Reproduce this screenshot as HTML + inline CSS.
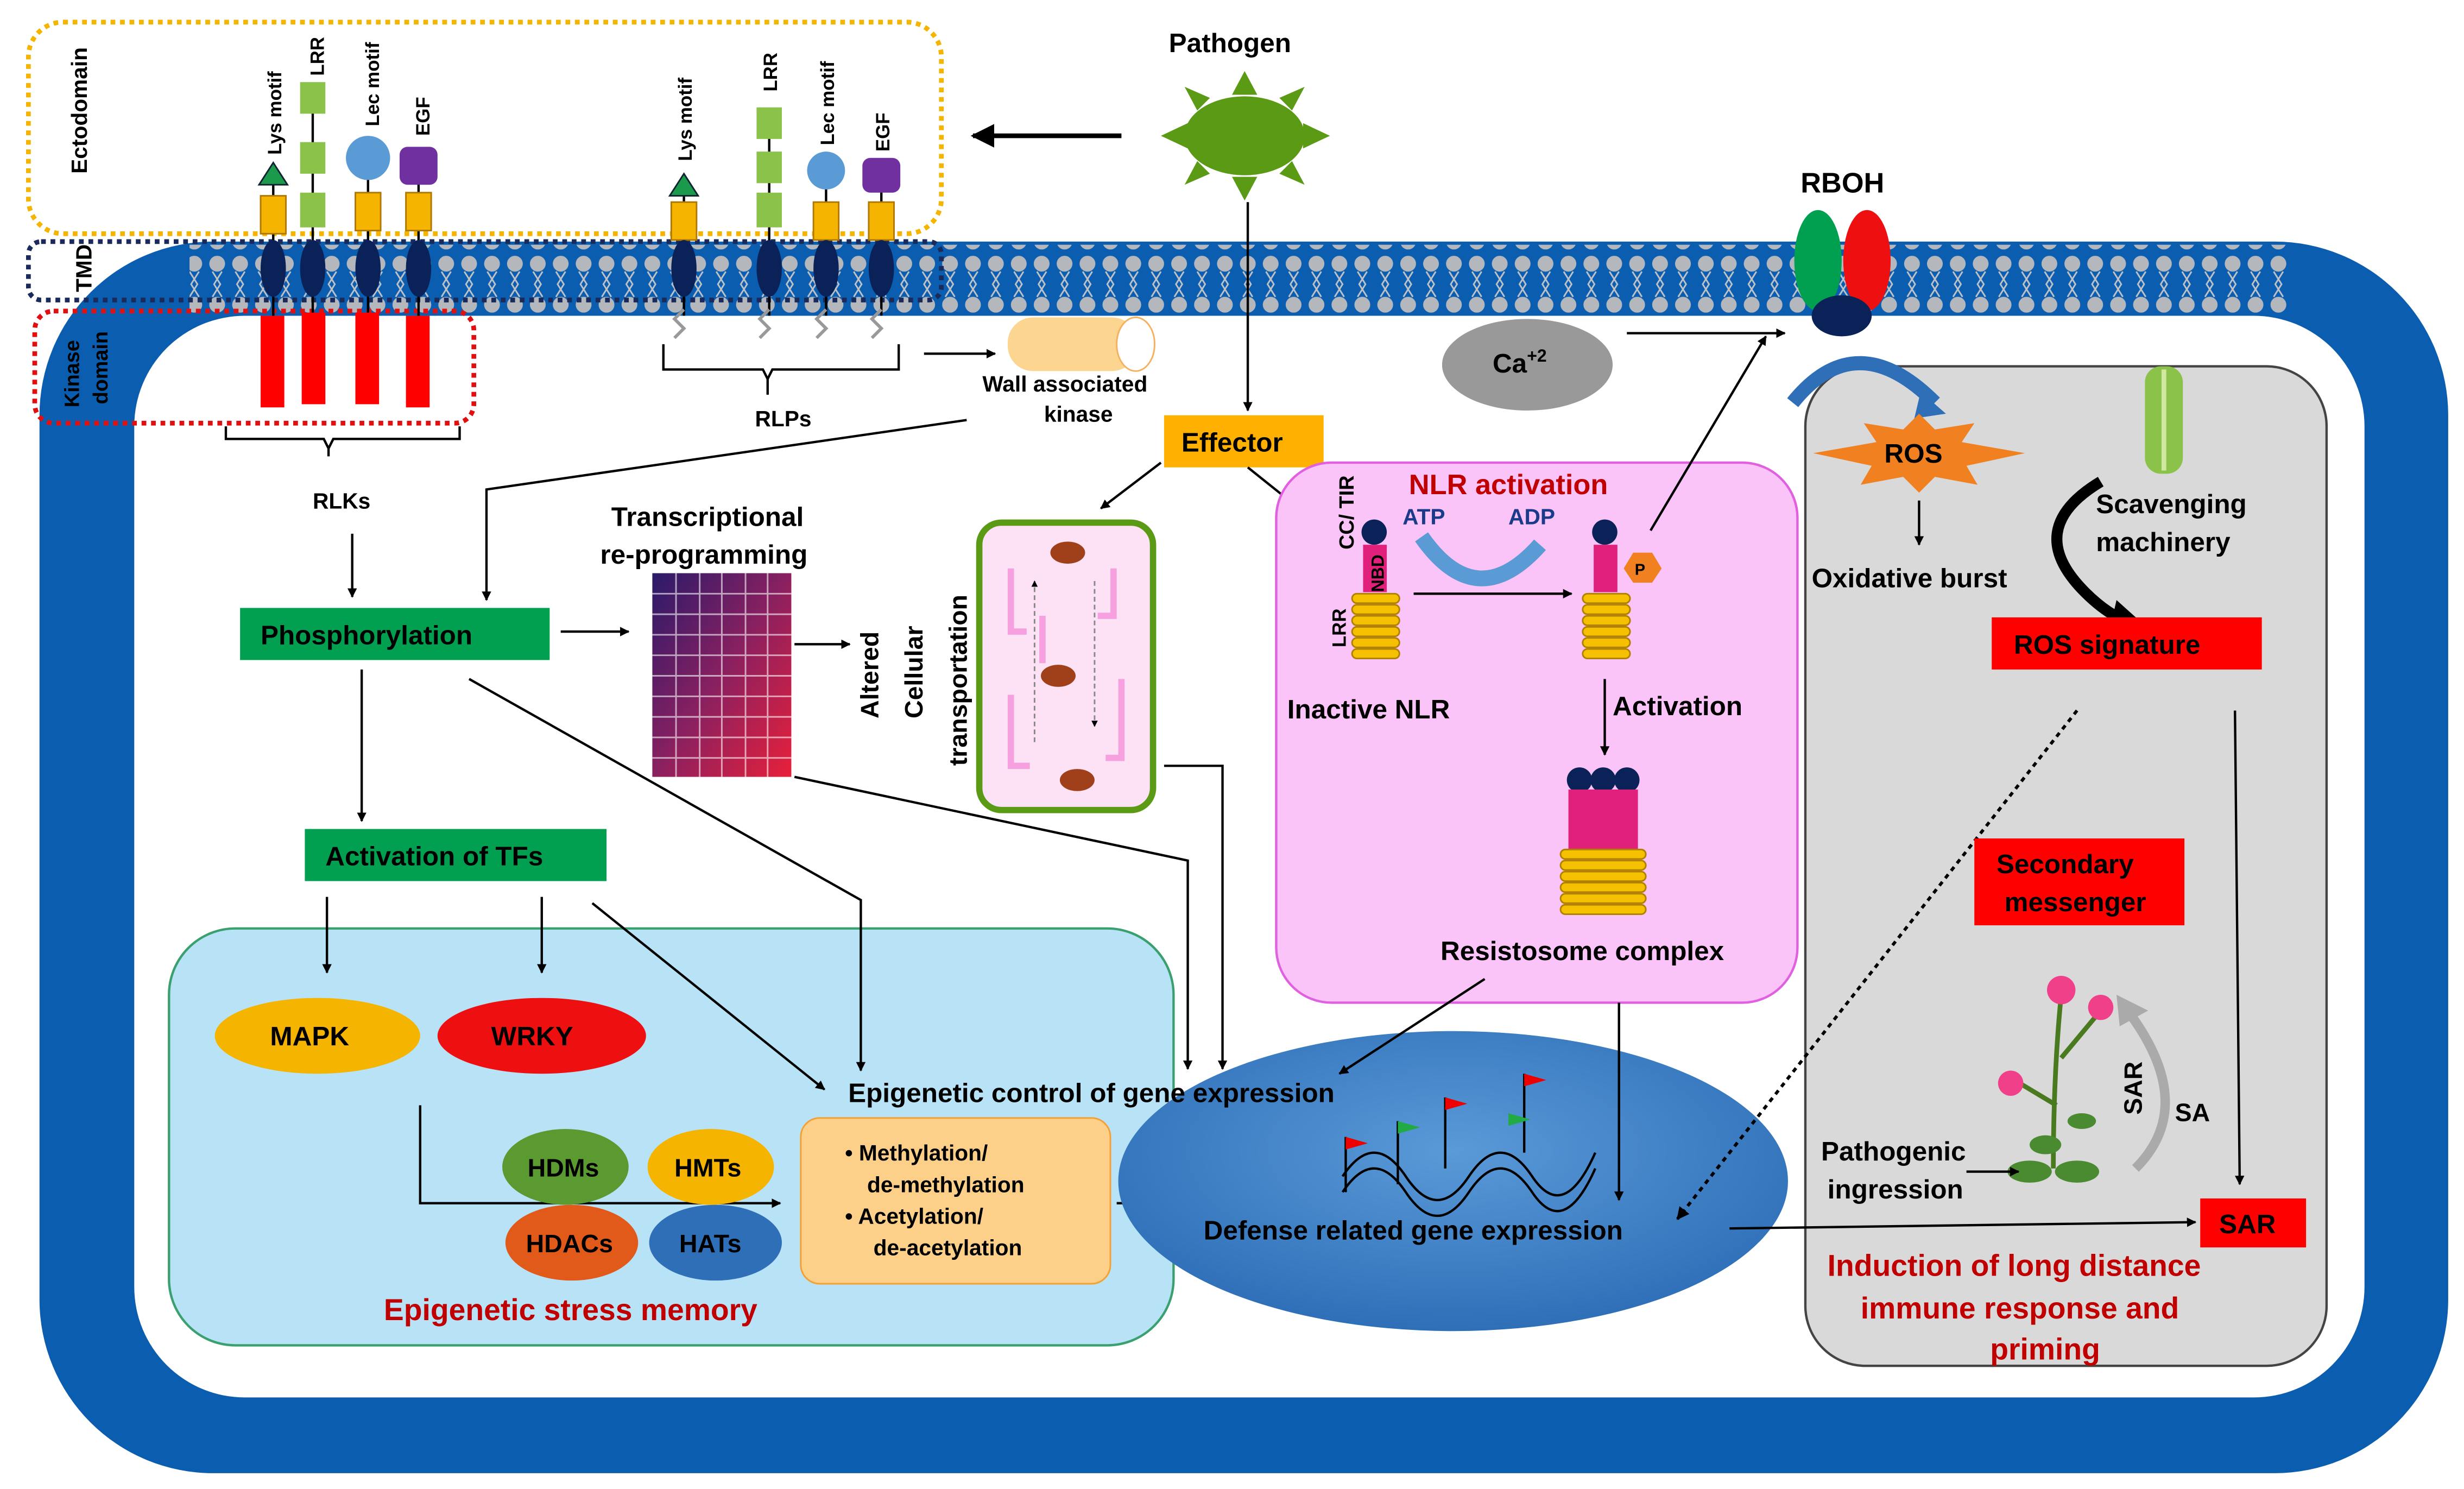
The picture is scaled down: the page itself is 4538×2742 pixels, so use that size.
<!DOCTYPE html>
<html><head><meta charset="utf-8"><style>
html,body{margin:0;padding:0;background:#fff}
svg{display:block}
text{font-family:"Liberation Sans",sans-serif;font-weight:bold}
</style></head><body>
<svg width="4538" height="2742" viewBox="0 0 1560 943" preserveAspectRatio="none" xmlns="http://www.w3.org/2000/svg">
<defs>
<marker id="a" viewBox="0 0 10 10" refX="9" refY="5" markerWidth="5" markerHeight="5" orient="auto"><path d="M0,0L10,5L0,10z" fill="#000"/></marker>
<marker id="b" viewBox="0 0 10 10" refX="9" refY="5" markerWidth="4" markerHeight="4" orient="auto"><path d="M0,0L10,5L0,10z" fill="#000"/></marker>
<linearGradient id="hm" x1="0" y1="0" x2="1" y2="1"><stop offset="0" stop-color="#2a1a6a"/><stop offset="0.5" stop-color="#8a2060"/><stop offset="1" stop-color="#e8203a"/></linearGradient>
<radialGradient id="el" cx="0.5" cy="0.4" r="0.6"><stop offset="0" stop-color="#5a9ad8"/><stop offset="1" stop-color="#2e6fb8"/></radialGradient>
<pattern id="lip" x="0" y="0" width="14.5" height="40" patternUnits="userSpaceOnUse"><circle cx="7" cy="7" r="5" fill="#bdbdbd"/><circle cx="7" cy="33" r="5" fill="#bdbdbd"/><path d="M4,12L9,20L4,28M10,12L5,20L10,28" stroke="#c8c8c8" stroke-width="1" fill="none"/></pattern>
</defs>
<rect width="1560" height="943" fill="#fff"/>
<rect x="25" y="153" width="1525" height="780" rx="110" fill="#0b5db0"/>
<rect x="85" y="200" width="1412" height="685" rx="70" fill="#fff"/>
<rect x="120" y="155" width="1328" height="44" fill="url(#lip)" opacity="0.95"/>
<rect x="18" y="14" width="578" height="134" rx="22" fill="none" stroke="#f5b400" stroke-width="3" stroke-dasharray="3,3"/>
<rect x="18" y="153" width="578" height="37" rx="8" fill="none" stroke="#1a2a5a" stroke-width="3" stroke-dasharray="3,3"/>
<rect x="22" y="197" width="278" height="71" rx="12" fill="none" stroke="#e01010" stroke-width="3" stroke-dasharray="3,3"/>
<text transform="translate(55,110) rotate(-90)" font-size="14">Ectodomain</text>
<text transform="translate(58,185) rotate(-90)" font-size="14">TMD</text>
<text transform="translate(50,258) rotate(-90)" font-size="13">Kinase</text>
<text transform="translate(68,256) rotate(-90)" font-size="13">domain</text>
<g stroke="#000" stroke-width="1.5">
<line x1="173" y1="110" x2="173" y2="200"/><line x1="198" y1="65" x2="198" y2="200"/><line x1="233" y1="110" x2="233" y2="200"/><line x1="265" y1="110" x2="265" y2="200"/>
<line x1="433" y1="118" x2="433" y2="200"/><line x1="487" y1="80" x2="487" y2="200"/><line x1="523" y1="118" x2="523" y2="200"/><line x1="558" y1="118" x2="558" y2="200"/>
</g>
<g fill="#f5b400" stroke="#b07800"><rect x="165" y="124" width="16" height="24"/><rect x="225" y="122" width="16" height="24"/><rect x="257" y="122" width="16" height="24"/><rect x="425" y="128" width="16" height="24"/><rect x="515" y="128" width="16" height="24"/><rect x="550" y="128" width="16" height="24"/></g>
<g fill="#8bc34a"><rect x="190" y="52" width="16" height="20"/><rect x="190" y="90" width="16" height="20"/><rect x="190" y="122" width="16" height="22"/><rect x="479" y="68" width="16" height="20"/><rect x="479" y="96" width="16" height="20"/><rect x="479" y="122" width="16" height="22"/></g>
<polygon points="173,103 164,117 182,117" fill="#1a9a4a" stroke="#123"/><polygon points="433,110 424,124 442,124" fill="#1a9a4a" stroke="#123"/>
<ellipse cx="233" cy="100" rx="14" ry="14" fill="#5b9bd5"/><ellipse cx="523" cy="108" rx="12" ry="12" fill="#5b9bd5"/>
<rect x="253" y="93" width="24" height="24" rx="5" fill="#7030a0"/><rect x="546" y="100" width="24" height="22" rx="5" fill="#7030a0"/>
<g fill="#0a2258"><ellipse cx="173" cy="170" rx="8" ry="18"/><ellipse cx="198" cy="170" rx="8" ry="18"/><ellipse cx="233" cy="170" rx="8" ry="18"/><ellipse cx="265" cy="170" rx="8" ry="18"/><ellipse cx="433" cy="170" rx="8" ry="18"/><ellipse cx="487" cy="170" rx="8" ry="18"/><ellipse cx="523" cy="170" rx="8" ry="18"/><ellipse cx="558" cy="170" rx="8" ry="18"/></g>
<g fill="#ff0000"><rect x="165" y="200" width="15" height="58"/><rect x="191" y="198" width="15" height="58"/><rect x="225" y="198" width="15" height="58"/><rect x="257" y="200" width="15" height="58"/></g>
<g stroke="#999" stroke-width="2" fill="none"><path d="M433,196l-6,6l6,6l-6,6"/><path d="M487,196l-6,6l6,6l-6,6"/><path d="M523,196l-6,6l6,6l-6,6"/><path d="M558,196l-6,6l6,6l-6,6"/></g>
<g font-size="12"><text transform="translate(178,98) rotate(-90)">Lys motif</text><text transform="translate(205,48) rotate(-90)">LRR</text><text transform="translate(240,80) rotate(-90)">Lec motif</text><text transform="translate(272,86) rotate(-90)">EGF</text>
<text transform="translate(438,102) rotate(-90)">Lys motif</text><text transform="translate(492,58) rotate(-90)">LRR</text><text transform="translate(528,92) rotate(-90)">Lec motif</text><text transform="translate(563,96) rotate(-90)">EGF</text></g>
<g stroke="#000" stroke-width="1.5" fill="none">
<path d="M143,270v8h62l3,6l3,-6h80v-8M208,284v5"/>
<path d="M420,218v16h63l3,6l3,-6h80v-16M486,240v10"/>
</g>
<text x="198" y="322" font-size="14">RLKs</text><text x="478" y="270" font-size="14">RLPs</text>
<g fill="#5a9a14"><ellipse cx="788" cy="86" rx="38" ry="25"/>
<polygon points="788,45 780,60 796,60"/><polygon points="788,127 780,112 796,112"/><polygon points="735,86 752,78 752,94"/><polygon points="842,86 825,78 825,94"/><polygon points="750,55 766,62 758,70"/><polygon points="826,55 810,62 818,70"/><polygon points="750,117 766,110 758,102"/><polygon points="826,117 810,110 818,102"/></g>
<text x="740" y="33" font-size="17">Pathogen</text>
<line x1="710" y1="86" x2="616" y2="86" stroke="#000" stroke-width="3" marker-end="url(#a)"/>
<line x1="790" y1="128" x2="790" y2="260" stroke="#000" stroke-width="1.5" marker-end="url(#b)"/>
<rect x="638" y="201" width="82" height="34" rx="16" fill="#fcd590"/><ellipse cx="719" cy="218" rx="12" ry="17" fill="#fff" stroke="#f5b060"/>
<line x1="585" y1="224" x2="630" y2="224" stroke="#000" stroke-width="1.5" marker-end="url(#b)"/>
<text x="622" y="248" font-size="14">Wall associated</text><text x="661" y="267" font-size="14">kinase</text>
<polyline points="612,266 308,310 308,380" fill="none" stroke="#000" stroke-width="1.5" marker-end="url(#b)"/>
<line x1="223" y1="338" x2="223" y2="378" stroke="#000" stroke-width="1.5" marker-end="url(#b)"/>
<rect x="737" y="263" width="101" height="33" fill="#ffb000"/><text x="748" y="286" font-size="17">Effector</text>
<line x1="735" y1="293" x2="697" y2="322" stroke="#000" stroke-width="1.5" marker-end="url(#b)"/>
<line x1="790" y1="296" x2="840" y2="336" stroke="#000" stroke-width="1.5" marker-end="url(#b)"/>
<rect x="152" y="385" width="196" height="33" fill="#00a050"/><text x="165" y="408" font-size="17">Phosphorylation</text>
<line x1="355" y1="400" x2="398" y2="400" stroke="#000" stroke-width="1.5" marker-end="url(#b)"/>
<text x="387" y="333" font-size="17">Transcriptional</text><text x="380" y="357" font-size="17">re-programming</text>
<rect x="413" y="363" width="88" height="129" fill="url(#hm)"/>
<g stroke="#fff" stroke-width="1" opacity="0.6"><path d="M428,363v129M443,363v129M457,363v129M472,363v129M486,363v129M413,376h88M413,389h88M413,402h88M413,415h88M413,428h88M413,441h88M413,454h88M413,467h88M413,480h88"/></g>
<line x1="503" y1="408" x2="538" y2="408" stroke="#000" stroke-width="1.5" marker-end="url(#b)"/>
<text transform="translate(556,455) rotate(-90)" font-size="16">Altered</text><text transform="translate(584,455) rotate(-90)" font-size="16">Cellular</text><text transform="translate(612,485) rotate(-90)" font-size="16">transportation</text>
<rect x="620" y="331" width="110" height="182" rx="14" fill="#fde2f6" stroke="#5a9a14" stroke-width="4"/>
<g stroke="#f7a0e0" stroke-width="4" fill="none"><path d="M640,360v40h10M705,360v30h-10M640,440v45h12M710,430v50h-10M660,390v30"/></g>
<line x1="655" y1="470" x2="655" y2="368" stroke="#888" stroke-dasharray="3,2" marker-end="url(#b)"/><line x1="693" y1="368" x2="693" y2="460" stroke="#888" stroke-dasharray="3,2" marker-end="url(#b)"/>
<g fill="#a0401a"><ellipse cx="676" cy="350" rx="11" ry="7"/><ellipse cx="670" cy="428" rx="11" ry="7"/><ellipse cx="682" cy="494" rx="11" ry="7"/></g>
<line x1="229" y1="424" x2="229" y2="520" stroke="#000" stroke-width="1.5" marker-end="url(#b)"/>
<rect x="193" y="525" width="191" height="33" fill="#00a050"/><text x="206" y="548" font-size="17">Activation of TFs</text>
<rect x="107" y="588" width="636" height="264" rx="42" fill="#b8e2f6" stroke="#3aa070" stroke-width="1.5"/>
<g stroke="#000" stroke-width="1.5" fill="none">
<line x1="207" y1="568" x2="207" y2="616" marker-end="url(#b)"/><line x1="343" y1="568" x2="343" y2="616" marker-end="url(#b)"/>
<line x1="375" y1="572" x2="522" y2="690" marker-end="url(#b)"/>
<polyline points="297,430 545,570 545,678" marker-end="url(#b)"/>
<polyline points="503,492 752,545 752,677" marker-end="url(#b)"/>
<polyline points="737,485 774,485 774,677" marker-end="url(#b)"/>
<polyline points="266,700 266,762 494,762" marker-end="url(#b)"/>
<line x1="707" y1="762" x2="755" y2="762" marker-end="url(#b)"/>
</g>
<ellipse cx="201" cy="656" rx="65" ry="24" fill="#f5b400"/><text x="171" y="662" font-size="17">MAPK</text>
<ellipse cx="343" cy="656" rx="66" ry="24" fill="#ee1010"/><text x="311" y="662" font-size="17">WRKY</text>
<ellipse cx="358" cy="739" rx="40" ry="24" fill="#5a9a30"/><text x="334" y="745" font-size="16">HDMs</text>
<ellipse cx="450" cy="739" rx="40" ry="24" fill="#f5b400"/><text x="427" y="745" font-size="16">HMTs</text>
<ellipse cx="362" cy="787" rx="42" ry="24" fill="#e25a1a"/><text x="333" y="793" font-size="16">HDACs</text>
<ellipse cx="453" cy="787" rx="42" ry="24" fill="#2e6fb8"/><text x="430" y="793" font-size="16">HATs</text>
<text x="243" y="836" font-size="19" fill="#c00000">Epigenetic stress memory</text>
<ellipse cx="920" cy="748" rx="212" ry="95" fill="url(#el)"/>
<rect x="507" y="708" width="196" height="105" rx="12" fill="#fdd08a" stroke="#f5a030"/>
<g font-size="14"><text x="535" y="735">•  Methylation/</text><text x="549" y="755">de-methylation</text><text x="535" y="775">•  Acetylation/</text><text x="553" y="795">de-acetylation</text></g>
<text x="537" y="698" font-size="17">Epigenetic control of gene expression</text>
<g stroke="#000" stroke-width="1.5" fill="none"><path d="M850,745q20,-30 40,0t40,0t40,0t40,-15M850,755q20,-30 40,0t40,0t40,0t40,-15"/>
<path d="M852,720v35M885,710v40M915,695v45M965,680v50"/></g>
<g><polygon points="852,720 866,724 852,728" fill="#e00"/><polygon points="885,710 899,714 885,718" fill="#2a4"/><polygon points="915,695 929,699 915,703" fill="#e00"/><polygon points="965,680 979,684 965,688" fill="#e00"/><polygon points="955,705 969,709 955,713" fill="#2a4"/></g>
<text x="762" y="785" font-size="17">Defense related gene expression</text>
<rect x="808" y="293" width="330" height="342" rx="35" fill="#fbc4f8" stroke="#e060e0" stroke-width="1.5"/>
<text x="892" y="313" font-size="18" fill="#c00000">NLR activation</text>
<text x="888" y="332" font-size="14" fill="#1a3a8a">ATP</text><text x="955" y="332" font-size="14" fill="#1a3a8a">ADP</text>
<path d="M900,340q35,50 75,5" fill="none" stroke="#5b9bd5" stroke-width="10"/>
<text transform="translate(857,348) rotate(-90)" font-size="13">CC/ TIR</text>
<circle cx="870" cy="337" r="8" fill="#0a2258"/><rect x="863" y="345" width="15" height="30" fill="#e0207a"/><text transform="translate(876,375) rotate(-90)" font-size="11">NBD</text>
<g fill="#f5c000" stroke="#b08000"><rect x="856" y="376" width="30" height="6" rx="3"/><rect x="856" y="383" width="30" height="6" rx="3"/><rect x="856" y="390" width="30" height="6" rx="3"/><rect x="856" y="397" width="30" height="6" rx="3"/><rect x="856" y="404" width="30" height="6" rx="3"/><rect x="856" y="411" width="30" height="6" rx="3"/>
<rect x="1002" y="376" width="30" height="6" rx="3"/><rect x="1002" y="383" width="30" height="6" rx="3"/><rect x="1002" y="390" width="30" height="6" rx="3"/><rect x="1002" y="397" width="30" height="6" rx="3"/><rect x="1002" y="404" width="30" height="6" rx="3"/><rect x="1002" y="411" width="30" height="6" rx="3"/></g>
<text transform="translate(852,410) rotate(-90)" font-size="12">LRR</text>
<circle cx="1016" cy="337" r="8" fill="#0a2258"/><rect x="1009" y="345" width="15" height="30" fill="#e0207a"/><polygon points="1028,360 1034,350 1046,350 1052,360 1046,369 1034,369" fill="#f08020"/><text x="1035" y="364" font-size="10">P</text>
<line x1="895" y1="376" x2="995" y2="376" stroke="#000" stroke-width="1.5" marker-end="url(#b)"/>
<text x="815" y="455" font-size="17">Inactive NLR</text><text x="1021" y="453" font-size="17">Activation</text>
<line x1="1016" y1="430" x2="1016" y2="478" stroke="#000" stroke-width="1.5" marker-end="url(#b)"/>
<g fill="#0a2258"><circle cx="1000" cy="494" r="8"/><circle cx="1015" cy="494" r="8"/><circle cx="1030" cy="494" r="8"/></g>
<rect x="993" y="500" width="44" height="38" fill="#e0207a"/>
<g fill="#f5c000" stroke="#b08000"><rect x="988" y="538" width="54" height="6" rx="3"/><rect x="988" y="545" width="54" height="6" rx="3"/><rect x="988" y="552" width="54" height="6" rx="3"/><rect x="988" y="559" width="54" height="6" rx="3"/><rect x="988" y="566" width="54" height="6" rx="3"/><rect x="988" y="573" width="54" height="6" rx="3"/></g>
<text x="912" y="608" font-size="17">Resistosome complex</text>
<g stroke="#000" stroke-width="1.5" fill="none">
<line x1="940" y1="620" x2="848" y2="680" marker-end="url(#b)"/>
<line x1="1025" y1="635" x2="1025" y2="760" marker-end="url(#b)"/>
<line x1="1045" y1="336" x2="1118" y2="213" marker-end="url(#b)"/>
<line x1="1030" y1="211" x2="1130" y2="211" marker-end="url(#b)"/>
</g>
<ellipse cx="967" cy="231" rx="54" ry="29" fill="#999"/><text x="945" y="236" font-size="17">Ca<tspan font-size="11" dy="-7">+2</tspan></text>
<text x="1140" y="122" font-size="18">RBOH</text>
<ellipse cx="1151" cy="165" rx="15" ry="32" fill="#00a050"/><ellipse cx="1182" cy="165" rx="15" ry="32" fill="#ee1010"/><ellipse cx="1166" cy="200" rx="19" ry="13" fill="#0a2258"/>
<rect x="1143" y="232" width="330" height="633" rx="38" fill="#d9d9d9" stroke="#444" stroke-width="1.5"/>
<line x1="1095" y1="778" x2="1390" y2="774" stroke="#000" stroke-width="1.5" marker-end="url(#b)"/>
<path d="M1135,255q40,-50 90,0" fill="none" stroke="#2e6fb8" stroke-width="9"/><polygon points="1216,248 1232,262 1212,265" fill="#2e6fb8"/>
<polygon points="1215,262 1225,272 1250,268 1242,280 1282,287 1245,295 1252,307 1225,302 1215,312 1205,302 1178,307 1185,295 1148,287 1188,280 1180,268 1205,272" fill="#f08020"/>
<text x="1193" y="293" font-size="17">ROS</text>
<line x1="1215" y1="317" x2="1215" y2="345" stroke="#000" stroke-width="1.5" marker-end="url(#b)"/>
<text x="1147" y="372" font-size="17">Oxidative burst</text>
<rect x="1358" y="232" width="24" height="68" rx="10" fill="#8bc34a"/><line x1="1370" y1="234" x2="1370" y2="298" stroke="#d0e8a0" stroke-width="3"/>
<text x="1327" y="325" font-size="17">Scavenging</text><text x="1327" y="349" font-size="17">machinery</text>
<path d="M1330,305q-50,30 -10,70q15,15 30,20" fill="none" stroke="#000" stroke-width="7"/><polygon points="1340,380 1360,398 1335,402" fill="#000"/>
<rect x="1261" y="391" width="171" height="33" fill="#ff0000"/><text x="1275" y="414" font-size="17">ROS signature</text>
<line x1="1315" y1="450" x2="1062" y2="772" stroke="#000" stroke-width="2" stroke-dasharray="3,3" marker-end="url(#b)"/>
<line x1="1415" y1="450" x2="1418" y2="750" stroke="#000" stroke-width="1.5" marker-end="url(#b)"/>
<rect x="1250" y="531" width="133" height="55" fill="#ff0000"/><text x="1264" y="553" font-size="17">Secondary</text><text x="1269" y="577" font-size="17">messenger</text>
<g stroke="#4a7a20" stroke-width="3" fill="none"><path d="M1300,740q0,-60 5,-110M1302,700l-25,-15M1305,670l25,-30"/></g>
<g fill="#4a8a30"><ellipse cx="1285" cy="742" rx="14" ry="7"/><ellipse cx="1315" cy="742" rx="14" ry="7"/><ellipse cx="1295" cy="725" rx="10" ry="6"/><ellipse cx="1318" cy="710" rx="9" ry="5"/></g>
<g fill="#f0408a"><circle cx="1305" cy="627" r="9"/><circle cx="1330" cy="638" r="8"/><circle cx="1273" cy="686" r="8"/></g>
<path d="M1352,740q40,-40 -5,-100" fill="none" stroke="#aaa" stroke-width="6"/><polygon points="1340,630 1360,640 1342,650" fill="#aaa"/>
<text transform="translate(1356,706) rotate(-90)" font-size="16">SAR</text><text x="1377" y="710" font-size="16">SA</text>
<text x="1153" y="735" font-size="17">Pathogenic</text><text x="1157" y="759" font-size="17">ingression</text>
<line x1="1245" y1="742" x2="1278" y2="742" stroke="#000" stroke-width="1.5" marker-end="url(#b)"/>
<rect x="1393" y="759" width="67" height="31" fill="#ff0000"/><text x="1405" y="781" font-size="17">SAR</text>
<g font-size="19" fill="#c00000"><text x="1157" y="808">Induction of long distance</text><text x="1178" y="835">immune response and</text><text x="1260" y="861">priming</text></g>
</svg>
</body></html>
